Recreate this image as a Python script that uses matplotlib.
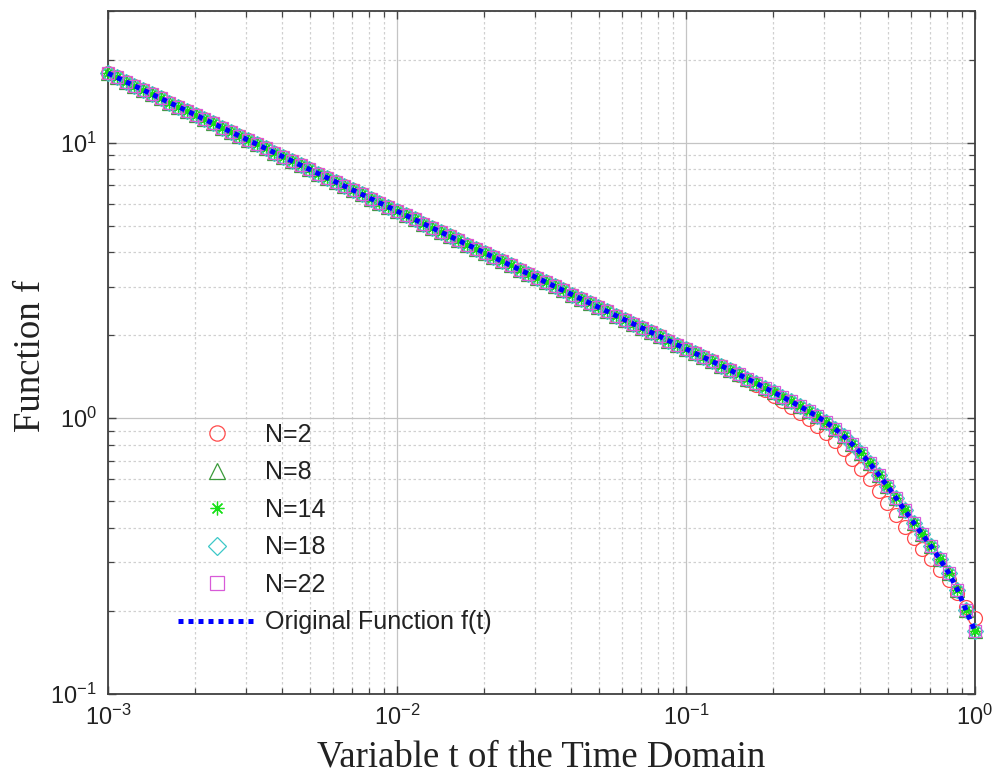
import matplotlib
matplotlib.use('Agg')
import matplotlib.pyplot as plt
from matplotlib.ticker import LogLocator, NullFormatter

# ---------------- data ----------------
t_values = [
    0.001, 0.001072, 0.00115, 0.001233, 0.001322, 0.001417, 0.00152, 0.00163, 0.001748, 0.001874,
    0.002009, 0.002154, 0.00231, 0.002477, 0.002656, 0.002848, 0.003054, 0.003275, 0.003511, 0.003765,
    0.004037, 0.004329, 0.004642, 0.004977, 0.005337, 0.005722, 0.006136, 0.006579, 0.007055, 0.007565,
    0.008111, 0.008697, 0.009326,
    0.01, 0.01072, 0.0115, 0.01233, 0.01322, 0.01417, 0.0152, 0.0163, 0.01748, 0.01874,
    0.02009, 0.02154, 0.0231, 0.02477, 0.02656, 0.02848, 0.03054, 0.03275, 0.03511, 0.03765,
    0.04037, 0.04329, 0.04642, 0.04977, 0.05337, 0.05722, 0.06136, 0.06579, 0.07055, 0.07565,
    0.08111, 0.08697, 0.09326,
    0.1, 0.1072, 0.115, 0.1233, 0.1322, 0.1417, 0.152, 0.163, 0.1748, 0.1874,
    0.2009, 0.2154, 0.231, 0.2477, 0.2656, 0.2848, 0.3054, 0.3275, 0.3511, 0.3765,
    0.4037, 0.4329, 0.4642, 0.4977, 0.5337, 0.5722, 0.6136, 0.6579, 0.7055, 0.7565,
    0.8111, 0.8697, 0.9326,
    1.0,
]

f_original = [
    17.84, 17.23, 16.64, 16.07, 15.52, 14.98, 14.47, 13.97, 13.50, 13.03,
    12.59, 12.15, 11.74, 11.34, 10.95, 10.57, 10.21, 9.859, 9.521, 9.194,
    8.879, 8.574, 8.281, 7.997, 7.722, 7.458, 7.202, 6.955, 6.717, 6.486,
    6.264, 6.049, 5.842,
    5.642, 5.448, 5.261, 5.081, 4.907, 4.738, 4.576, 4.419, 4.268, 4.121,
    3.980, 3.844, 3.712, 3.584, 3.462, 3.343, 3.228, 3.118, 3.011, 2.907,
    2.808, 2.711, 2.619, 2.529, 2.442, 2.358, 2.277, 2.199, 2.124, 2.051,
    1.981, 1.913, 1.847,
    1.784, 1.723, 1.664, 1.607, 1.552, 1.498, 1.443, 1.390, 1.341, 1.290,
    1.244, 1.197, 1.151, 1.105, 1.060, 1.015, 0.968, 0.917, 0.862, 0.804,
    0.746, 0.686, 0.625, 0.568, 0.513, 0.463, 0.418, 0.379, 0.343, 0.308,
    0.275, 0.239, 0.201,
    0.169,
]

# N=2 deviates from the original only for t > ~0.15
n2_tail = [1.436, 1.376, 1.321, 1.262, 1.207, 1.152, 1.097, 1.044, 0.991, 0.939,
           0.886, 0.830, 0.771, 0.714, 0.656, 0.600, 0.545, 0.494, 0.446, 0.404,
           0.367, 0.335, 0.308, 0.282, 0.259, 0.233, 0.207, 0.189]
f_n2 = f_original[:72] + n2_tail
f_n8 = list(f_original)
f_n14 = list(f_original)
f_n18 = list(f_original)
f_n22 = list(f_original)

series_labels = ['N=2', 'N=8', 'N=14', 'N=18', 'N=22']
series_values = [f_n2, f_n8, f_n14, f_n18, f_n22]
original_label = 'Original Function f(t)'

x_label = 'Variable t of the Time Domain'
y_label = 'Function f'

# ---------------- styling ----------------
plt.rcParams['font.family'] = ['Liberation Sans', 'DejaVu Sans']
plt.rcParams['mathtext.fontset'] = 'custom'
plt.rcParams['mathtext.rm'] = 'Liberation Sans'
plt.rcParams['mathtext.it'] = 'Liberation Sans:italic'
plt.rcParams['mathtext.bf'] = 'Liberation Sans:bold'

markers = ['o', '^', (8, 2, 0), 'D', 's']
colors = ['#ff4a4a', '#3a9a3a', '#18e018', '#3cc8c8', '#d85ad8']
msizes = [10, 10, 9, 8.5, 9]

fig = plt.figure(figsize=(9.98, 7.81), dpi=100)
ax = fig.add_axes([0.1082, 0.1114, 0.8687, 0.8745])

handles = []
for lab, vals, mk, c, ms in zip(series_labels, series_values, markers, colors, msizes):
    h, = ax.plot(t_values, vals, linestyle='none', marker=mk, markersize=ms,
                 markerfacecolor='none', markeredgecolor=c, markeredgewidth=0.9,
                 label=lab, zorder=3, clip_on=False)
    handles.append(h)

h_orig, = ax.plot(t_values, f_original, color='#0000ff', lw=3.6,
                  linestyle=(0, (1, 1)), dash_capstyle='butt',
                  label=original_label, zorder=4, clip_on=False)
handles.append(h_orig)

ax.set_xscale('log')
ax.set_yscale('log')
ax.set_xlim(1e-3, 1.0)
ax.set_ylim(0.1, 30)

ax.xaxis.set_minor_locator(LogLocator(base=10, subs=range(2, 10), numticks=50))
ax.yaxis.set_minor_locator(LogLocator(base=10, subs=range(2, 10), numticks=50))
ax.xaxis.set_minor_formatter(NullFormatter())
ax.yaxis.set_minor_formatter(NullFormatter())

ax.grid(True, which='major', color='#c4c4c4', lw=0.9, ls='-', zorder=0)
ax.grid(True, which='minor', color='#d0d0d0', lw=0.9, ls=(0, (2, 2)), zorder=0)
ax.set_axisbelow(True)

ax.tick_params(which='both', direction='in', top=True, right=True,
               color='#444444', labelcolor='#222222')
ax.tick_params(which='major', length=6, width=1.0, labelsize=17, pad=8)
ax.tick_params(which='minor', length=4, width=0.9)
for sp in ax.spines.values():
    sp.set_color('#404040')
    sp.set_linewidth(1.3)

ax.set_xlabel(x_label, fontfamily='Liberation Serif', fontsize=26.5, color='#222222')
ax.set_ylabel(y_label, fontfamily='Liberation Serif', fontsize=26.5, color='#222222')
ax.xaxis.set_label_coords(0.5, -0.068)
ax.yaxis.set_label_coords(-0.069, 0.495)

leg = ax.legend(handles, series_labels + [original_label], loc='upper left',
                bbox_to_anchor=(0.081, 0.397), frameon=False, fontsize=18,
                handlelength=3.1, handletextpad=0.36, labelspacing=0.54,
                borderpad=0, borderaxespad=0, numpoints=1, markerscale=1.1)
for txt in leg.get_texts():
    txt.set_color('#222222')

fig.savefig('out.png', dpi=100)
